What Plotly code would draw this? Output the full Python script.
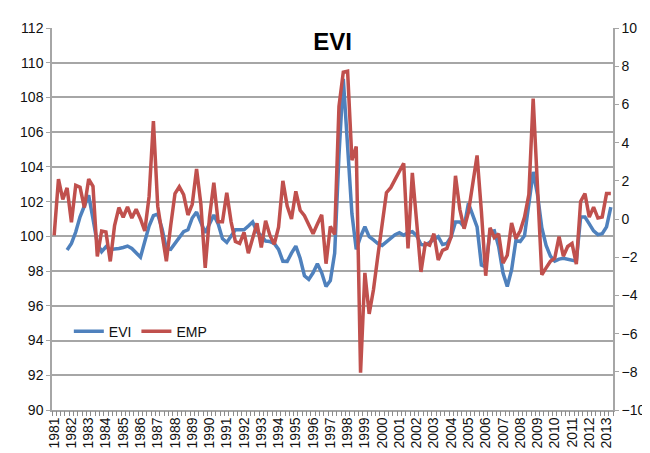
import plotly.graph_objects as go

years = list(range(1981, 2014))
quarters = [f"{y}Q{q}" for y in years for q in range(1, 5)][:130]

evi = [None, None, None, 99.21, 99.59, 100.25, 101.13, 101.75, 102.37, 101.0,
       99.59, 99.12, 99.4, 99.25, 99.25, 99.3, 99.36, 99.44, 99.3, 99.08,
       98.8, 99.7, 100.6, 101.19, 101.28, 100.44, 99.3, 99.25, 99.59, 99.98,
       100.27, 100.38, 101.06, 101.4, 100.83, 100.21, 100.72, 101.23, 100.72, 99.87,
       99.65, 99.98, 100.38, 100.38, 100.38, 100.6, 100.83, 100.27, 100.04, 99.73,
       99.7, 99.59, 99.25, 98.57, 98.56, 99.03, 99.44, 98.74, 97.73, 97.52,
       97.9, 98.42, 97.9, 97.11, 97.45, 99.03, 104.67, 109.07, 105.2, 101.3,
       99.25, 99.98, 100.55, 99.98, 99.8, 99.59, 99.48, 99.7, 99.87, 100.1,
       100.21, 100.06, 100.21, 100.27, 100.04, 99.53, 99.49, 99.65, 99.78, 99.98,
       99.53, 99.59, 99.98, 100.83, 100.83, 100.55, 101.9, 101.28, 100.55, 98.35,
       98.24, 100.27, 100.32, 99.42, 97.9, 97.11, 98.07, 99.76, 99.7, 100.04,
       102.02, 103.71, 102.41, 100.5, 99.48, 98.86, 98.57, 98.69, 98.74, 98.69,
       98.63, 98.57, 101.11, 101.11, 100.72, 100.32, 100.1, 100.15, 100.55, 101.68]

emp = [-0.86, 2.09, 1.03, 1.63, -0.17, 1.76, 1.66, 0.6, 2.09, 1.71,
       -1.96, -0.63, -0.68, -2.22, -0.34, 0.6, 0.09, 0.63, 0.05, 0.51,
       0.0, -0.63, 1.18, 5.13, 0.67, -0.77, -2.21, -0.36, 1.33, 1.69,
       1.28, 0.21, 0.77, 2.62, 0.77, -2.56, 0.1, 1.9, -0.15, -0.15,
       1.38, -0.15, -1.18, -1.28, -0.7, -1.79, -1.03, -0.22, -1.49, -0.09,
       -0.86, -1.32, -0.43, 2.0, 0.68, 0.0, 1.45, 0.46, 0.17, -0.31,
       -0.77, -0.26, 0.22, -2.34, -0.39, -0.81, 5.9, 7.69, 7.74, 3.08,
       3.79, -8.05, -2.82, -4.97, -3.69, -1.95, -0.26, 1.38, 1.64, 2.05,
       2.46, 2.92, -1.54, 2.41, -0.15, -2.77, -1.28, -1.37, -0.77, -2.15,
       -1.64, -1.54, -0.92, 2.26, 0.51, -0.51, 0.36, 1.79, 3.33, 0.41,
       -2.97, -0.46, -0.97, -0.77, -2.31, -1.9, -0.21, -1.03, -0.62, 0.1,
       1.28, 6.31, 1.44, -2.92, -2.56, -2.21, -2.05, -0.92, -1.95, -1.44,
       -1.28, -2.36, 0.92, 1.33, 0.1, 0.62, 0.05, 0.1, 1.33, 1.33]

year_labels = [str(y) for y in years]

x_idx = list(range(len(quarters)))
FONT = "Liberation Sans, Arial, sans-serif"
GRID = "#a6a6a6"
TXT = "#111111"
XR = [-0.5, len(quarters) - 0.5]

fig = go.Figure()
fig.add_trace(go.Scatter(x=x_idx, y=evi, name="EVI", mode="lines",
                         line=dict(color="#4F81BD", width=3.5), connectgaps=False,
                         customdata=quarters))
fig.add_trace(go.Scatter(x=x_idx, y=emp, name="EMP", mode="lines",
                         xaxis="x2", yaxis="y2",
                         line=dict(color="#C0504D", width=3.5),
                         customdata=quarters))

fig.update_layout(
    width=650, height=453,
    margin=dict(l=42, r=32, t=20, b=43),
    paper_bgcolor="white", plot_bgcolor="white",
    font=dict(family=FONT, size=14, color=TXT),
    title=dict(text="<b>EVI</b>", x=0.5, xanchor="center", xref="paper",
               y=1 - 34 / 453, yanchor="middle", yref="container",
               font=dict(family=FONT, size=24, color="#000000")),
    showlegend=True,
    legend=dict(orientation="h", x=0.03, y=0.205, xanchor="left", yanchor="middle",
                bgcolor="rgba(0,0,0,0)", font=dict(size=14, color=TXT),
                itemwidth=30, tracegroupgap=0),
    xaxis=dict(range=XR, tickmode="array",
               tickvals=[quarters.index(f"{y}Q1") for y in years],
               ticktext=year_labels, tickangle=-90,
               ticks="", showgrid=False, zeroline=False,
               showline=True, linecolor=GRID, linewidth=1.5,
               tickfont=dict(size=14, color=TXT)),
    xaxis2=dict(range=XR, overlaying="x", anchor="y", side="bottom",
                tickmode="array", tickvals=[k - 0.5 for k in range(len(quarters) + 1)],
                showticklabels=False, ticks="outside", ticklen=5, tickwidth=1,
                tickcolor="#8c8c8c", showgrid=False, zeroline=False, showline=False),
    yaxis=dict(range=[90, 112], dtick=2, tick0=90, showgrid=True, gridcolor=GRID,
               gridwidth=1.5, zeroline=False, showline=True, linecolor=GRID,
               linewidth=1.5, ticks="outside", ticklen=4, tickcolor=GRID,
               tickfont=dict(size=14, color=TXT)),
    yaxis2=dict(range=[-10, 10], dtick=2, tick0=-10, overlaying="y", side="right",
                anchor="x2",
                showgrid=False, zeroline=False, showline=True, linecolor=GRID,
                linewidth=1.5, ticks="outside", ticklen=4, tickcolor=GRID,
                tickfont=dict(size=14, color=TXT)),
)

fig.write_html("out.html")
